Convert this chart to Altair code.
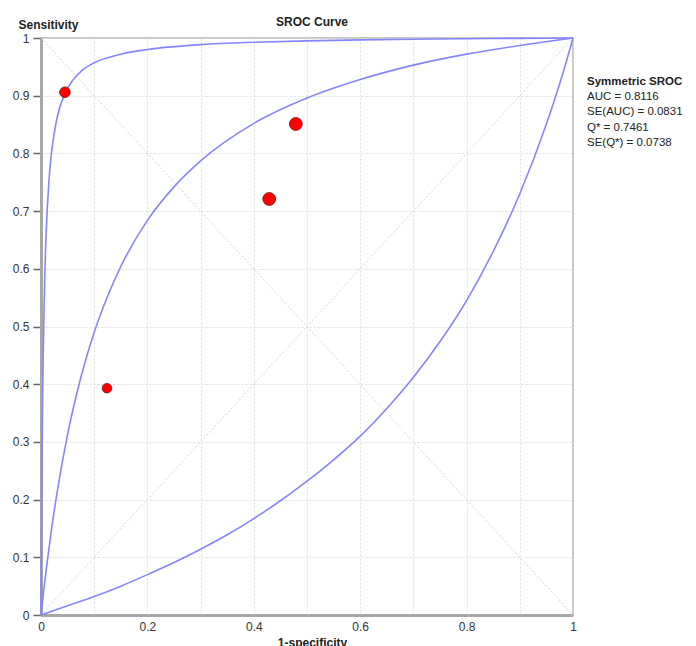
import altair as alt
import pandas as pd

# ---------------- data ----------------
upper_fpr = [0, 0.001, 0.002, 0.004, 0.007, 0.01, 0.015, 0.02, 0.03, 0.045, 0.06, 0.08,
             0.1, 0.15, 0.2, 0.3, 0.4, 0.5, 0.6, 0.7, 0.8, 0.9, 1.0]
upper_sens = [0, 0.167, 0.286, 0.445, 0.585, 0.669, 0.753, 0.803, 0.861, 0.904, 0.927, 0.946,
              0.957, 0.972, 0.980, 0.9885, 0.9926, 0.995, 0.9967, 0.9979, 0.9988, 0.9994, 1.0]

mid_fpr = [0, 0.005, 0.01, 0.02, 0.03, 0.05, 0.075, 0.1, 0.125, 0.15, 0.2, 0.25, 0.3, 0.4, 0.5,
           0.6, 0.7, 0.8, 0.9, 1.0]
mid_sens = [0, 0.042, 0.080, 0.150, 0.211, 0.313, 0.412, 0.490, 0.552, 0.604, 0.684, 0.742, 0.787,
            0.852, 0.896, 0.928, 0.953, 0.972, 0.987, 1.0]

low_fpr = [0, 0.05, 0.1, 0.15, 0.2, 0.25, 0.3, 0.35, 0.4, 0.45, 0.5, 0.55, 0.6, 0.65, 0.7,
           0.75, 0.8, 0.85, 0.9, 0.95, 0.98, 1.0]
low_sens = [0, 0.016, 0.032, 0.050, 0.070, 0.091, 0.114, 0.139, 0.167, 0.198, 0.232, 0.269,
            0.310, 0.358, 0.412, 0.474, 0.545, 0.630, 0.730, 0.851, 0.936, 1.0]

study_fpr = [0.045, 0.124, 0.429, 0.479]
study_sens = [0.906, 0.393, 0.721, 0.851]
study_weight = [113, 92, 165, 165]

diag_x = [0, 1]
diag_y = [0, 1]
anti_y = [1, 0]

tick_values = [0, 0.1, 0.2, 0.3, 0.4, 0.5, 0.6, 0.7, 0.8, 0.9, 1]

legend_title = "Symmetric SROC"
legend_lines = ["AUC = 0.8116", "SE(AUC) = 0.0831", "Q* = 0.7461", "SE(Q*) = 0.0738"]

# ---------------- tables ----------------
curves = pd.concat([
    pd.DataFrame({"fpr": upper_fpr, "sens": upper_sens, "curve": "upper"}),
    pd.DataFrame({"fpr": mid_fpr, "sens": mid_sens, "curve": "sroc"}),
    pd.DataFrame({"fpr": low_fpr, "sens": low_sens, "curve": "lower"}),
], ignore_index=True)
studies = pd.DataFrame({"fpr": study_fpr, "sens": study_sens, "w": study_weight})
diags = pd.concat([
    pd.DataFrame({"fpr": diag_x, "sens": diag_y, "d": "main"}),
    pd.DataFrame({"fpr": diag_x, "sens": anti_y, "d": "anti"}),
], ignore_index=True)

FONT = "Liberation Sans"
xs = alt.Scale(domain=[0, 1], nice=False, zero=False)
ys = alt.Scale(domain=[0, 1], nice=False, zero=False)

X = alt.X("fpr:Q", scale=xs, axis=alt.Axis(
    values=tick_values, ticks=False, labelPadding=6, format="~g", labelFlush=False,
    labelExpr="round(datum.value*10) % 2 == 0 ? datum.label : ''",
    title="1-specificity", titleX=271, titleY=22, titleAlign="center",
    titleBaseline="top", titleFontSize=12, titleFontWeight="bold",
    titleFont=FONT, titleColor="#222"))
Y = alt.Y("sens:Q", scale=ys, axis=alt.Axis(
    values=tick_values, tickSize=8, tickColor="#666", tickWidth=1.5, labelPadding=4,
    format="~g", labelFlush=False,
    title="Sensitivity", titleAngle=0, titleAlign="left", titleBaseline="alphabetic",
    titleX=-23, titleY=-10, titleFontSize=12, titleFontWeight="bold",
    titleFont=FONT, titleColor="#222"))

diag_layer = alt.Chart(diags).mark_line(
    color="#d8d8d8", strokeWidth=1, strokeDash=[2, 2]
).encode(x=X, y=Y, detail="d:N")

curve_layer = alt.Chart(curves).mark_line(
    color="#8585ff", strokeWidth=1.6, interpolate="monotone"
).encode(x=X, y=Y, detail="curve:N")

point_layer = alt.Chart(studies).mark_circle(
    color="#ff0000", opacity=1, stroke="#7a1010", strokeWidth=0.8
).encode(x=X, y=Y, size=alt.Size("w:Q", scale=None, legend=None))

title_layer = alt.Chart(pd.DataFrame({"t": ["SROC Curve"]})).mark_text(
    font=FONT, fontSize=12, fontWeight="bold", color="#222", align="center",
    baseline="alphabetic"
).encode(x=alt.value(271), y=alt.value(-12), text="t:N")

leg_layers = [alt.Chart(pd.DataFrame({"t": [legend_title]})).mark_text(
    font=FONT, fontSize=11.5, fontWeight="bold", color="#222", align="left",
    baseline="alphabetic"
).encode(x=alt.value(546), y=alt.value(47), text="t:N")]
leg_y = [61.5, 77, 92.5, 108]
for line, yy in zip(legend_lines, leg_y):
    leg_layers.append(alt.Chart(pd.DataFrame({"t": [line]})).mark_text(
        font=FONT, fontSize=11.5, color="#222", align="left", baseline="alphabetic"
    ).encode(x=alt.value(546), y=alt.value(yy), text="t:N"))

chart = alt.layer(diag_layer, curve_layer, point_layer, title_layer, *leg_layers).properties(
    width=532, height=577,
    autosize=alt.AutoSizeParams(type="none"),
    padding={"left": 33, "top": 30, "right": 115, "bottom": 40},
).configure_axis(
    gridColor="#dedede", gridDash=[2, 2], gridWidth=1,
    domainColor="#a8a8a8", domainWidth=3,
    labelFont=FONT, labelFontSize=12, labelColor="#333",
).configure_view(
    stroke="#b4b4b4", strokeWidth=1.5, clip=False
)

chart.save("out.html", embed_options={"renderer": "svg", "actions": False})
